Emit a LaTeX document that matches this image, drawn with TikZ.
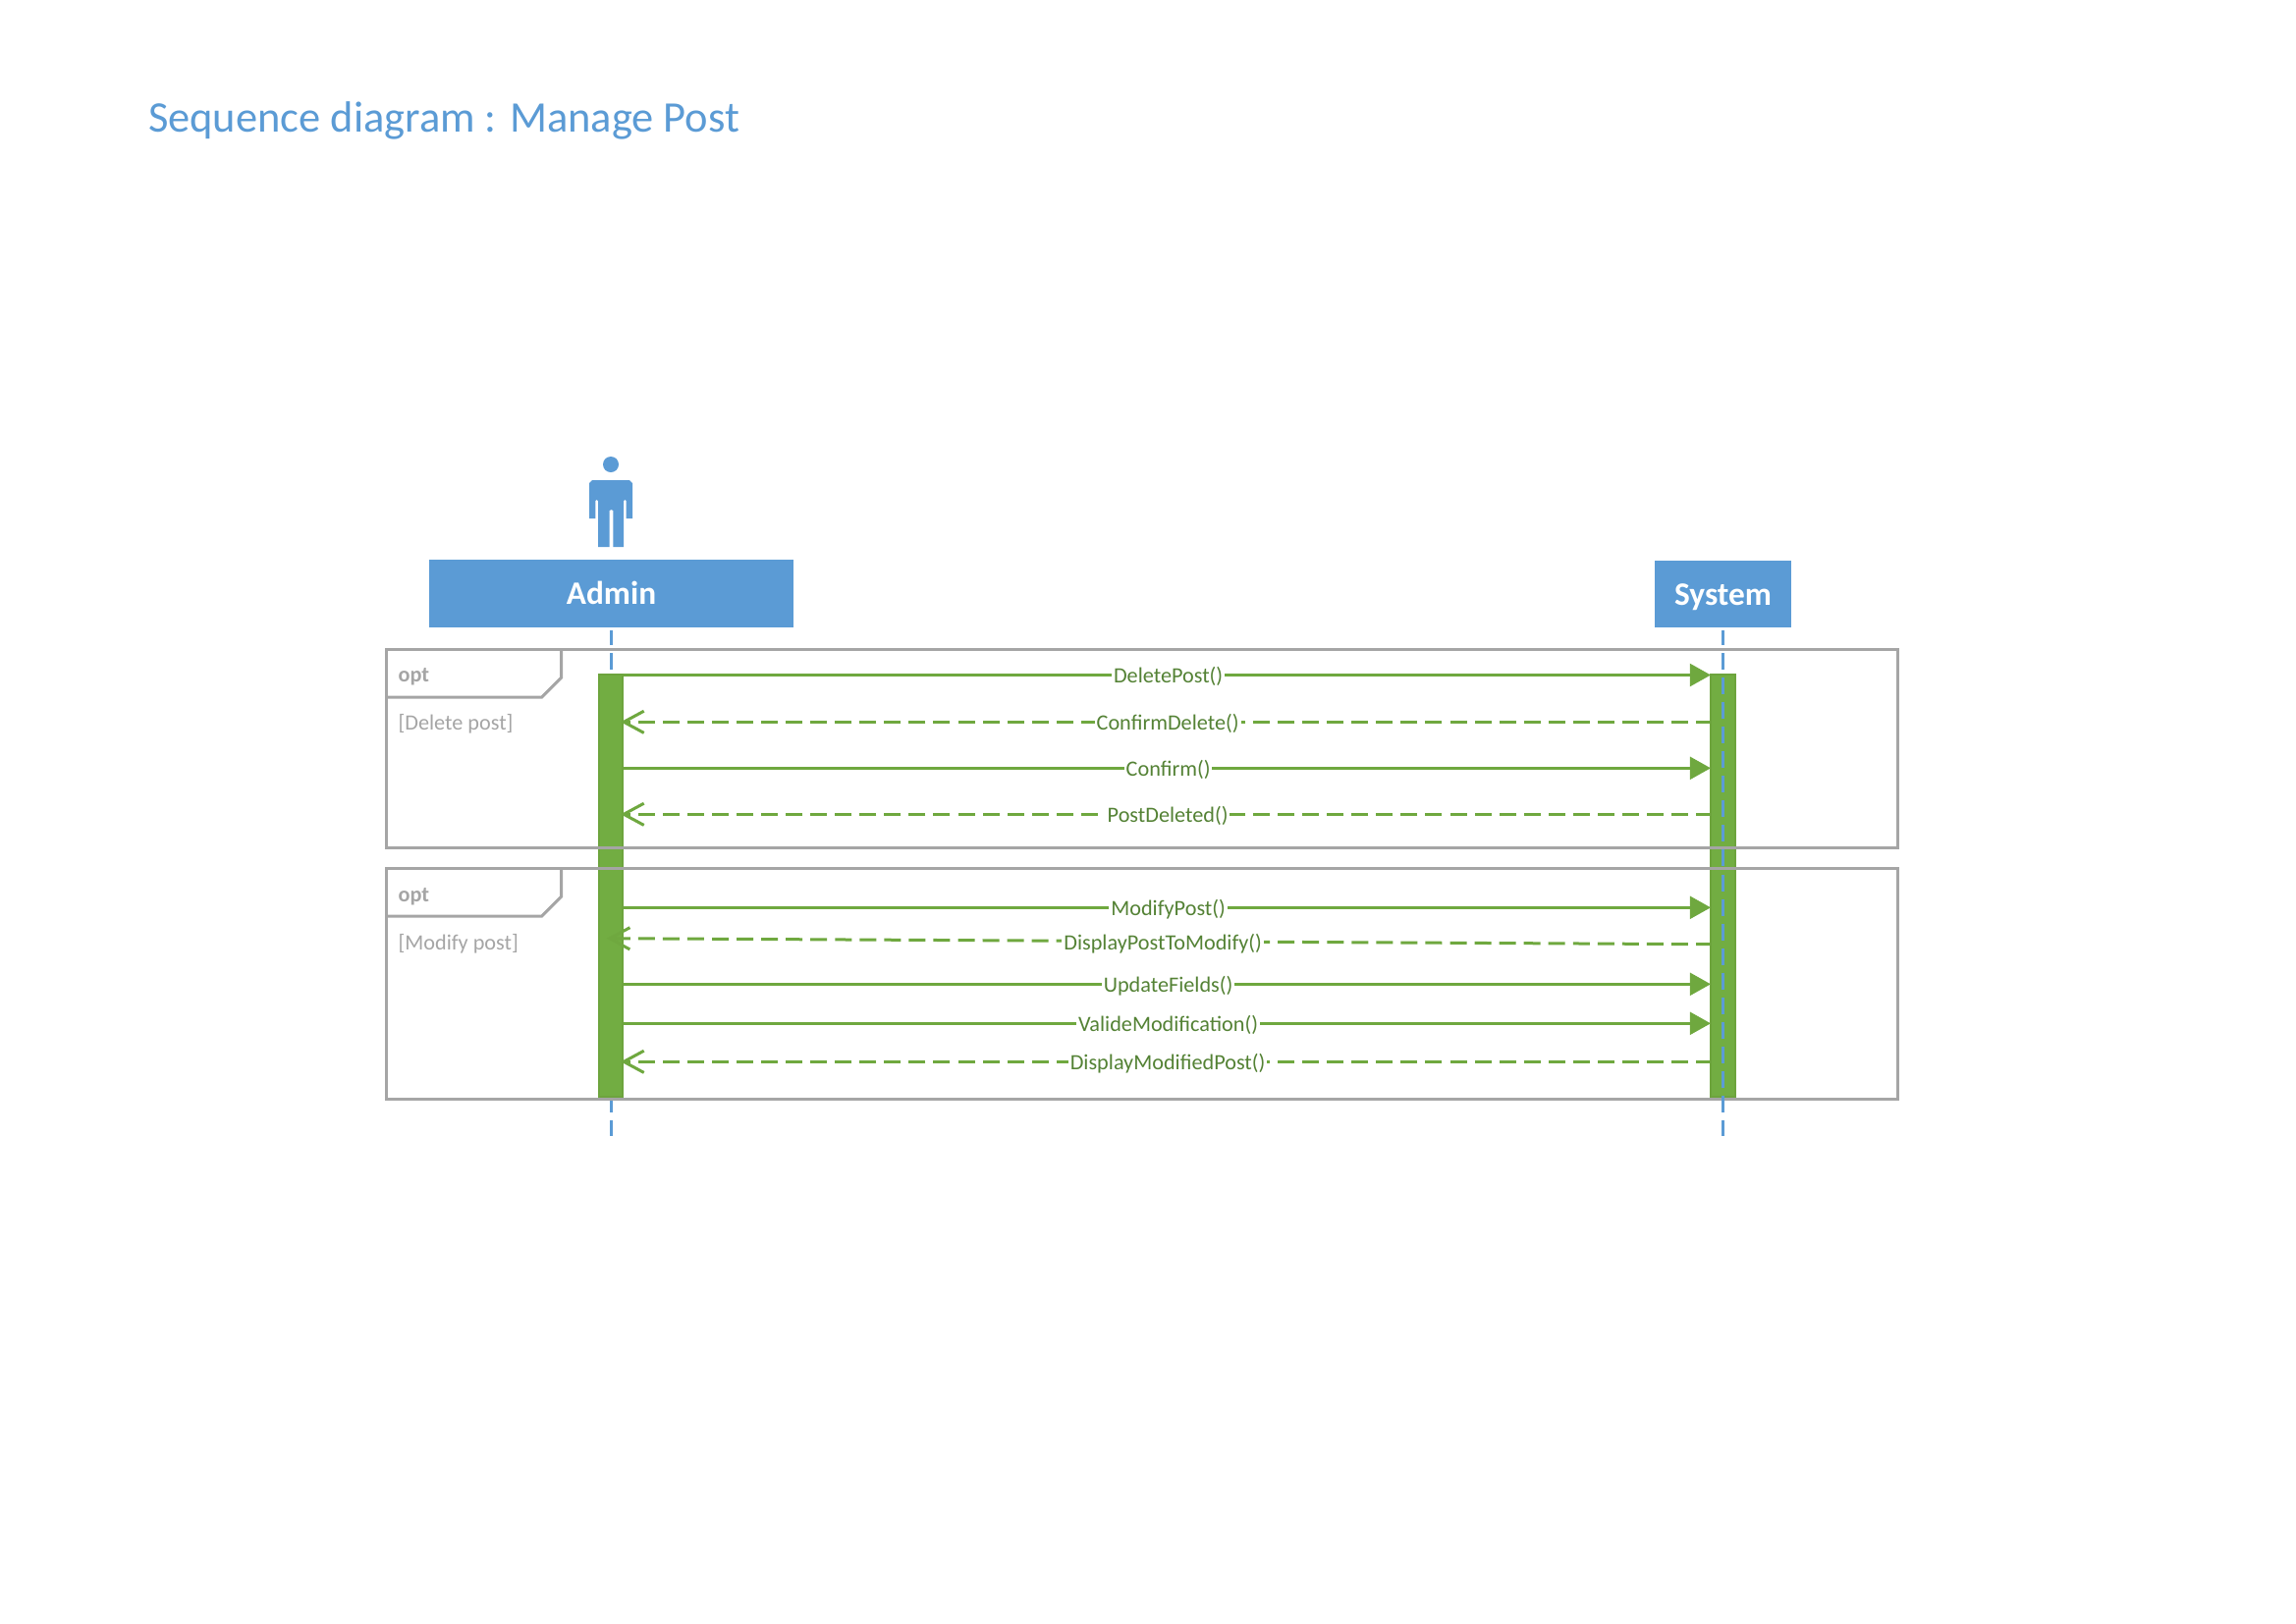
\documentclass[tikz,border=0pt]{standalone}
\usepackage{fontspec}
\setmainfont{Carlito}
\usetikzlibrary{arrows.meta}
\definecolor{bluefill}{HTML}{5B9BD5}
\definecolor{greenfill}{HTML}{72AD42}
\definecolor{greenedge}{HTML}{6DA43D}
\definecolor{greenline}{HTML}{6FA83F}
\definecolor{greentext}{HTML}{548235}
\definecolor{framegrey}{HTML}{A5A5A5}
\tikzset{
  headbox/.style={fill=bluefill,inner sep=0pt,outer sep=0pt},
  headtext/.style={text=white,font=\fontsize{12}{14}\selectfont\bfseries,inner sep=0pt,anchor=base},
  lifeline/.style={draw=bluefill,line width=1.08pt,dash pattern=on 6.12pt off 2.898pt,dash phase=0.72pt},
  actbar/.style={fill=greenfill,draw=greenedge,line width=0.7pt,inner sep=0pt,outer sep=0pt,minimum width=24.2*0.36pt,minimum height=430*0.36pt},
  framebox/.style={draw=framegrey,line width=1.08pt,inner sep=0pt,outer sep=0pt,minimum width=1539*0.36pt},
  frameline/.style={draw=framegrey,line width=1.08pt},
  optlabel/.style={text=framegrey,font=\fontsize{8}{10}\selectfont\bfseries,anchor=base west,inner sep=0pt},
  guardlabel/.style={text=framegrey,font=\fontsize{8}{10}\selectfont,anchor=base west,inner sep=0pt},
  call/.style={draw=greenline,line width=1.08pt,-{Triangle[length=7.6pt,width=8.2pt]}},
  reply/.style={draw=greenline,line width=1.08pt,dash pattern=on 6.12pt off 2.898pt,dash phase=1.08pt,shorten >=-1.08pt,-{Straight Barb[length=7.4pt,width=8pt]}},
  msglabel/.style={fill=white,text=greentext,font=\fontsize{8}{10}\selectfont,inner sep=0.7pt,text height=5pt,text depth=0pt,yshift=-0.5pt,xshift=0.4pt},
  titlelabel/.style={text=bluefill,font=\fontsize{16}{19}\selectfont,anchor=base west,inner sep=0pt}
}
\begin{document}
\begin{tikzpicture}[x=0.36pt,y=-0.36pt]
\useasboundingbox[fill=white] (0,0) rectangle (2338,1653);
\node[titlelabel] (title) at (150.5,134) {Sequence diagram : Manage Post};
% actor
\fill[bluefill] (622,473) circle (8);
\fill[bluefill] (600,528) -- (600,492) -- (603,489) -- (641,489) -- (644,492) -- (644,528) -- (637.7,528) -- (637.7,510) -- (636.5,509) -- (635,510) -- (635,557) -- (624.3,557) -- (624.3,520) -- (622.5,519) -- (620.7,520) -- (620.7,557) -- (609,557) -- (609,510) -- (607.5,509) -- (606.3,510) -- (606.3,528) -- cycle;
% lifeline heads
\node[headbox,minimum width=371*0.36pt,minimum height=69*0.36pt] (admin) at (622.5,604.5) {};
\node[headbox,minimum width=139*0.36pt,minimum height=68*0.36pt] (system) at (1754.5,605) {};
\node[headtext] (admintext) at (622.5,615) {Admin};
\node[headtext] (systemtext) at (1754.5,616) {System};
\coordinate (adminend) at (622.5,1157);
\coordinate (systemend) at (1754.5,1157);
\coordinate (adminstart) at (622.5,642);
\coordinate (systemstart) at (1754.5,642);
\draw[lifeline] (adminstart) -- (adminend);
% activation bars
\node[actbar] (adminbar) at (622,902) {};
\node[actbar,minimum width=25*0.36pt] (systembar) at (1754.5,902) {};
% frames
\node[framebox,minimum height=201.8*0.36pt] (frameone) at (1163.2,762.4) {};
\node[framebox,minimum height=235*0.36pt] (frametwo) at (1163.2,1001.8) {};
\draw[frameline] (571.7,661.5) -- (571.7,690) -- (551.7,710) -- (393.7,710);
\draw[frameline] (571.7,884.3) -- (571.7,913) -- (551.7,933) -- (393.7,933);
\node[optlabel] (optone) at (405,694.5) {opt};
\node[guardlabel] (guardone) at (405,743.5) {[Delete post]};
\node[optlabel] (opttwo) at (405,918.5) {opt};
\node[guardlabel] (guardtwo) at (405,967) {[Modify post]};
\draw[lifeline] (systemstart) -- (systemend);
% message end points
\coordinate (a1) at (635,687.5);  \coordinate (s1) at (1742,687.5);
\coordinate (a2) at (635,735.3);  \coordinate (s2) at (1741,735.3);
\coordinate (a3) at (635,782.3);  \coordinate (s3) at (1742,782.3);
\coordinate (a4) at (635,829.3);  \coordinate (s4) at (1741,829.3);
\coordinate (a5) at (635,924.3);  \coordinate (s5) at (1742,924.3);
\coordinate (a6) at (620.7,955.7);\coordinate (s6) at (1741,961.7);
\coordinate (a7) at (635,1002.3); \coordinate (s7) at (1742,1002.3);
\coordinate (a8) at (635,1042.3); \coordinate (s8) at (1742,1042.3);
\coordinate (a9) at (635,1081.3); \coordinate (s9) at (1741,1081.3);
% messages
\draw[call]  (a1) -- node[msglabel] (l1) {DeletePost()} (s1);
\draw[reply] (s2) -- node[msglabel] (l2) {ConfirmDelete()} (a2);
\draw[call]  (a3) -- node[msglabel] (l3) {Confirm()} (s3);
\draw[reply] (s4) -- node[msglabel] (l4) {PostDeleted()} (a4);
\draw[call]  (a5) -- node[msglabel] (l5) {ModifyPost()} (s5);
\draw[reply] (s6) -- node[msglabel,pos=0.498] (l6) {DisplayPostToModify()} (a6);
\draw[call]  (a7) -- node[msglabel] (l7) {UpdateFields()} (s7);
\draw[call]  (a8) -- node[msglabel] (l8) {ValideModification()} (s8);
\draw[reply] (s9) -- node[msglabel] (l9) {DisplayModifiedPost()} (a9);
\end{tikzpicture}
\end{document}
